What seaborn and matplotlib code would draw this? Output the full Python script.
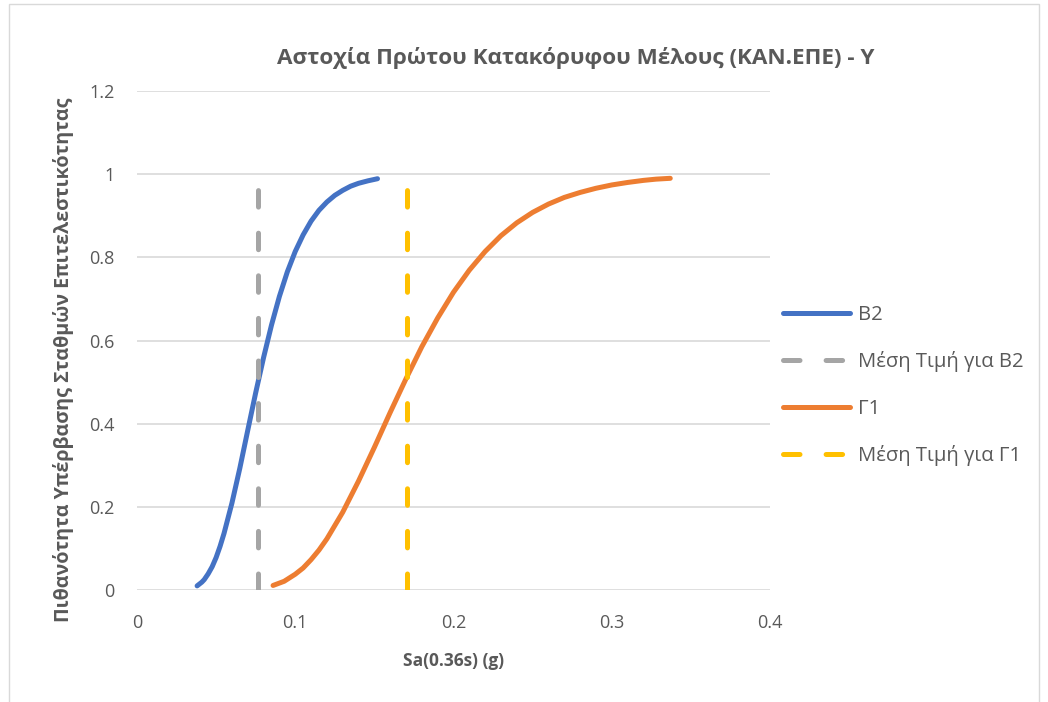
import matplotlib
matplotlib.use("Agg")
import matplotlib.pyplot as plt
import seaborn as sns
from matplotlib.patches import Rectangle

# values
b2_x = [0.038, 0.041, 0.0425, 0.045, 0.0475, 0.05, 0.0525, 0.055, 0.06, 0.065,
        0.07, 0.075, 0.08, 0.085, 0.09, 0.095, 0.10, 0.105, 0.11, 0.115,
        0.12, 0.125, 0.13, 0.135, 0.14, 0.146, 0.152]
b2_y = [0.010, 0.019, 0.025, 0.039, 0.056, 0.078, 0.105, 0.136, 0.209, 0.293,
        0.384, 0.474, 0.559, 0.637, 0.706, 0.765, 0.814, 0.854, 0.887, 0.913,
        0.933, 0.949, 0.961, 0.971, 0.978, 0.984, 0.989]

g1_x = [0.086, 0.093, 0.10, 0.105, 0.11, 0.115, 0.12, 0.13, 0.14, 0.15, 0.16,
        0.17, 0.18, 0.19, 0.20, 0.21, 0.22, 0.23, 0.24, 0.25, 0.26, 0.27,
        0.28, 0.29, 0.30, 0.31, 0.32, 0.328, 0.337]
g1_y = [0.011, 0.021, 0.038, 0.053, 0.073, 0.096, 0.123, 0.187, 0.262, 0.343,
        0.427, 0.508, 0.585, 0.654, 0.716, 0.769, 0.814, 0.852, 0.883, 0.908,
        0.928, 0.944, 0.956, 0.966, 0.974, 0.980, 0.985, 0.988, 0.990]

b2_mean = 0.0767
g1_mean = 0.1708
mean_y = [0.0, 0.967]

labels = ["B2", "Μέση Τιμή για B2", "Γ1", "Μέση Τιμή για Γ1"]
colors = ["#4472C4", "#A5A5A5", "#ED7D31", "#FFC000"]

sns.set_style("white")
plt.rcParams["font.family"] = ["Open Sans", "DejaVu Sans"]

fig = plt.figure(figsize=(10.48, 7.02), dpi=100)
ax = fig.add_axes([0.1307, 0.1595, 0.6040, 0.7109])

lw = 3.6
dash = (0, (3.3, 5.22))
sns.lineplot(x=b2_x, y=b2_y, ax=ax, color=colors[0], lw=lw, label=labels[0],
             estimator=None, sort=False, solid_capstyle="round", solid_joinstyle="round")
sns.lineplot(x=[b2_mean, b2_mean], y=mean_y, ax=ax, color=colors[1], lw=lw,
             label=labels[1], estimator=None, sort=False,
             dashes=False, linestyle=dash, dash_capstyle="round")
sns.lineplot(x=g1_x, y=g1_y, ax=ax, color=colors[2], lw=lw, label=labels[2],
             estimator=None, sort=False, solid_capstyle="round", solid_joinstyle="round")
sns.lineplot(x=[g1_mean, g1_mean], y=mean_y, ax=ax, color=colors[3], lw=lw,
             label=labels[3], estimator=None, sort=False,
             dashes=False, linestyle=dash, dash_capstyle="round")

ax.set_xlim(0, 0.4)
ax.set_ylim(0, 1.2)
ax.set_xticks([0, 0.1, 0.2, 0.3, 0.4])
ax.set_xticklabels(["0", "0.1", "0.2", "0.3", "0.4"])
ax.set_yticks([0, 0.2, 0.4, 0.6, 0.8, 1.0, 1.2])
ax.set_yticklabels(["0", "0.2", "0.4", "0.6", "0.8", "1", "1.2"])
ax.grid(axis="y", color="#D9D9D9", lw=1.2)
ax.set_axisbelow(True)
for s in ax.spines.values():
    s.set_visible(False)
ax.tick_params(axis="y", length=0, labelsize=13, colors="#595959", pad=16)
ax.tick_params(axis="x", length=0, labelsize=13, colors="#595959", pad=17)

ax.set_xlabel("Sa(0.36s) (g)", fontsize=12.5, fontweight="bold", color="#595959", labelpad=15)
ax.set_ylabel("Πιθανότητα Υπέρβασης Σταθμών Επιτελεστικότητας", fontsize=14.2,
              fontweight="bold", color="#595959")
ax.yaxis.set_label_coords(-0.1, 0.462)
fig.text(0.5496, 0.918, "Αστοχία Πρώτου Κατακόρυφου Μέλους (ΚΑΝ.ΕΠΕ) - Υ",
         ha="center", va="center", fontsize=16.2, fontweight="bold", color="#595959")

leg = ax.legend(loc="center left", bbox_to_anchor=(1.0, 0.41), frameon=False,
                fontsize=14.6, labelcolor="#595959", handlelength=3.3,
                labelspacing=1.3, handletextpad=0.4, borderaxespad=0.25)

fig.patches.append(Rectangle((0.0085, -0.01), 0.983, 1.005, transform=fig.transFigure,
                             fill=False, edgecolor="#D9D9D9", lw=1))

fig.savefig("out.png", dpi=100)
